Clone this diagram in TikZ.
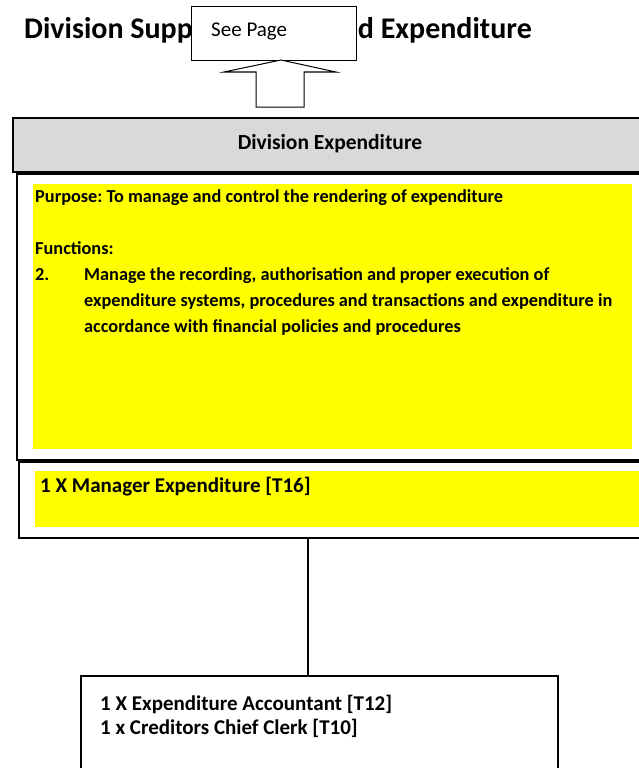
\documentclass[tikz,border=0pt]{standalone}
\usepackage{fontspec}
\setmainfont{Carlito}
\definecolor{hilite}{RGB}{255,255,0}
\definecolor{headgrey}{RGB}{217,217,217}
\begin{document}
\frenchspacing
\begin{tikzpicture}[x=1pt, y=-1pt]
    % Define box styles
    \tikzstyle{frame} = [draw, rectangle, line width=2pt, inner sep=0pt, anchor=north west]
    \tikzstyle{yellowbox} = [rectangle, fill=hilite, inner sep=0pt, anchor=north west]
    \tikzstyle{label} = [anchor=base west, inner sep=0pt, font=\bfseries\fontsize{18.3}{26}\selectfont, align=left]
    \tikzstyle{post} = [anchor=base west, inner sep=0pt, font=\bfseries\fontsize{21}{24}\selectfont]

    \useasboundingbox (0,0) rectangle (639,768);
    \clip (0,0) rectangle (639,768);

    % Title and page reference
    \node[anchor=base west, inner sep=0pt, font=\bfseries\fontsize{30}{34}\selectfont] (title) at (24,39) {Division Supp\hspace{165pt}d Expenditure};
    \node[draw, fill=white, line width=1pt, inner sep=0pt, anchor=north west, minimum width=165pt, minimum height=54pt] (seepage) at (191,6) {};
    \node[anchor=base west, inner sep=0pt, font=\fontsize{21}{24}\selectfont] (seetext) at (211,37) {See Page};

    % Block arrow up to the page reference
    \coordinate (tip) at (281,60);
    \draw[fill=white, line width=1pt] (tip) -- ++(55,12) -- ++(-32,0) -- ++(0,35) -- ++(-48,0) -- ++(0,-35) -- ++(-32,0) -- cycle;

    % Division boxes
    \node[frame, fill=headgrey, minimum width=636pt, minimum height=54pt] (division) at (12,117) {};
    \node[anchor=base, inner sep=0pt, font=\bfseries\fontsize{21.5}{24}\selectfont] (divtext) at (330,149) {Division Expenditure};
    \node[frame, minimum width=660pt, minimum height=286pt] (purpose) at (15.5,172.5) {};
    \node[yellowbox, minimum width=599pt, minimum height=265pt] (purposefill) at (33,184) {};
    \node[label] (purposetext) at (35,332) {Purpose: To manage and control the rendering of expenditure\\[26pt]
        Functions:\\
        \makebox[49pt][l]{2.}Manage the recording, authorisation and proper execution of\\
        \hspace*{49pt}expenditure systems, procedures and transactions and expenditure in\\
        \hspace*{49pt}accordance with financial policies and procedures};

    % Manager and staff
    \node[frame, minimum width=660pt, minimum height=76pt] (manager) at (18,461) {};
    \node[yellowbox, minimum width=605pt, minimum height=56pt] (managerfill) at (35,471) {};
    \node[post] (managertext) at (40,492) {1 X Manager Expenditure [T16]};
    \node[frame, line width=1.5pt, minimum width=477pt, minimum height=120pt] (staff) at (80,675) {};
    \node[post] (stafftext) at (100,710) {1 X Expenditure Accountant [T12]};
    \node[post] (stafftext2) at (100,734) {1 x Creditors Chief Clerk [T10]};

    % Reporting line
    \coordinate (linex) at (308,0);
    \draw[line width=1.5pt] (manager.south -| linex) -- (staff.north -| linex);
\end{tikzpicture}
\end{document}
